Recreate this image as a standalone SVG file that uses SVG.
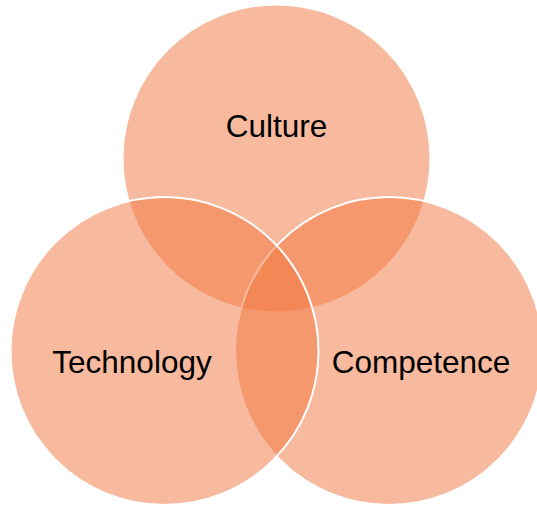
<svg xmlns="http://www.w3.org/2000/svg" width="537" height="508" viewBox="0 0 537 508">
<style>
.c{fill:#F1763D;fill-opacity:0.5;stroke:#FFFFFF;stroke-width:2}
.t{font-family:"Liberation Sans",Arial,sans-serif;font-size:31.5px;fill:#000000;text-anchor:middle}
</style>
<rect width="537" height="508" fill="#FFFFFF"/>
<g id="culture">
<circle class="c" cx="276.5" cy="158.5" r="154"/>
<text class="t" x="276.5" y="137">Culture</text>
</g>
<g id="competence">
<circle class="c" cx="389" cy="351" r="154"/>
<text class="t" x="421" y="372.5">Competence</text>
</g>
<g id="technology">
<circle class="c" cx="164.5" cy="351" r="154"/>
<text class="t" x="132" y="372.5">Technology</text>
</g>
<g id="connectors"/>
</svg>
